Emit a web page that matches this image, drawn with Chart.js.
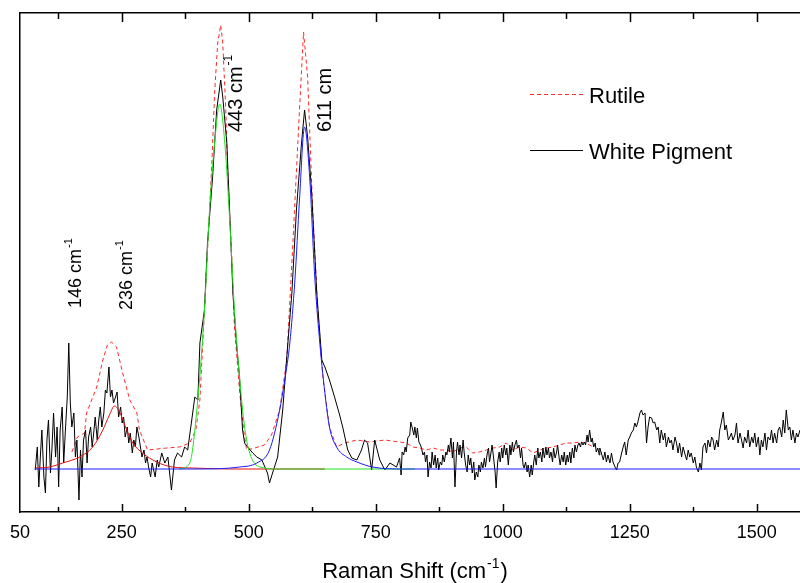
<!DOCTYPE html>
<html>
<head>
<meta charset="utf-8">
<title>Raman spectrum</title>
<script src="https://cdn.jsdelivr.net/npm/chart.js@4.4.1/dist/chart.umd.min.js"></script>
<style>
  html, body { margin: 0; padding: 0; background: #fff; overflow: hidden; }
  canvas { display: block; }
</style>
</head>
<body>
<canvas id="ramanChart" width="800" height="583"></canvas>
<script>
// White pigment spectrum (raw, noisy)
const pigmentShift = [
  // 80 - 323
  80, 84, 87, 90, 93, 97, 100, 103, 106, 110,
  113, 116, 120, 123, 126, 129, 133, 136, 139, 143,
  146, 149, 152, 156, 159, 162, 166, 169, 172, 175,
  179, 182, 185, 189, 192, 195, 198, 202, 205, 208,
  211, 215, 218, 221, 225, 228, 231, 234, 238, 241,
  244, 248, 251, 254, 257, 261, 264, 267, 271, 274,
  277, 280, 284, 287, 290, 294, 297, 300, 303, 307,
  310, 313, 316, 320, 323,
  // 329 - 791
  329, 335, 341, 348, 354, 360, 368, 374, 380, 388,
  394, 400, 404, 413, 419, 429, 437, 445, 449, 457,
  463, 469, 476, 482, 488, 492, 498, 508, 516, 526,
  537, 541, 547, 557, 567, 575, 585, 594, 604, 610,
  616, 624, 634, 644, 650, 659, 669, 679, 685, 695,
  703, 713, 722, 728, 734, 742, 748, 758, 768, 778,
  791,
  // 797 - 1190
  797, 800, 802, 805, 808, 810, 813, 817, 819, 822,
  825, 827, 830, 832, 835, 838, 840, 843, 846, 848,
  851, 853, 856, 859, 861, 864, 867, 869, 872, 874,
  877, 880, 882, 885, 888, 890, 893, 895, 898, 901,
  903, 906, 909, 911, 914, 916, 919, 922, 924, 927,
  930, 932, 935, 937, 940, 943, 945, 948, 951, 953,
  956, 958, 961, 964, 966, 969, 972, 974, 977, 979,
  982, 985, 987, 990, 993, 995, 998, 1000, 1003, 1006,
  1008, 1011, 1014, 1016, 1019, 1021, 1024, 1027, 1029, 1032,
  1035, 1037, 1040, 1042, 1045, 1048, 1050, 1053, 1056, 1058,
  1061, 1063, 1066, 1069, 1071, 1074, 1077, 1079, 1082, 1085,
  1087, 1090, 1092, 1095, 1098, 1100, 1103, 1106, 1108, 1111,
  1113, 1116, 1119, 1121, 1124, 1127, 1129, 1132, 1134, 1137,
  1140, 1142, 1145, 1148, 1150, 1153, 1155, 1158, 1161, 1163,
  1166, 1168, 1171, 1174, 1176, 1179, 1182, 1184, 1187, 1190,
  // 1191 - 1585
  1191, 1194, 1198, 1201, 1204, 1207, 1211, 1214, 1217, 1221,
  1224, 1227, 1230, 1234, 1237, 1240, 1243, 1247, 1250, 1253,
  1257, 1260, 1263, 1266, 1270, 1273, 1276, 1280, 1283, 1286,
  1289, 1293, 1296, 1299, 1303, 1306, 1309, 1312, 1316, 1319,
  1322, 1326, 1329, 1332, 1335, 1339, 1342, 1345, 1348, 1352,
  1355, 1358, 1362, 1365, 1368, 1371, 1375, 1378, 1381, 1385,
  1388, 1391, 1394, 1398, 1401, 1404, 1408, 1411, 1414, 1417,
  1421, 1424, 1427, 1430, 1434, 1437, 1440, 1444, 1447, 1450,
  1453, 1457, 1460, 1463, 1467, 1470, 1473, 1476, 1480, 1483,
  1486, 1490, 1493, 1496, 1499, 1503, 1506, 1509, 1512, 1516,
  1519, 1522, 1526, 1529, 1532, 1535, 1539, 1542, 1545, 1549,
  1552, 1555, 1558, 1562, 1565, 1568, 1571, 1575, 1578, 1581,
  1585
];
const pigmentIntensity = [
  -1, 22, -18, 12, 39, -8, -24, 29, 49, -4,
  22, 56, 12, 42, -18, 39, 62, 6, 36, 72,
  126, 66, 42, 56, 12, 29, -31, 19, -8, 29,
  39, 6, 32, 42, 22, 36, 52, 29, 49, 62,
  42, 56, 79, 76, 102, 72, 79, 66, 72, 77,
  52, 62, 46, 52, 32, 42, 26, 36, 16, 29,
  22, 42, 32, 22, 12, 19, 6, 12, 2, -8,
  6, -1, -8, 9, 2,

  16, 6, 12, -21, 9, 16, 12, 22, 19, 49,
  72, 69, 126, 159, 226, 292, 359, 389, 372, 326,
  252, 176, 126, 92, 39, 26, 22, 16, 12, 9,
  -4, -14, -4, 12, 59, 112, 176, 259, 326, 359,
  332, 276, 176, 109, 102, 89, 72, 54, 42, 19,
  11, 9, 19, 29, 26, -1, 29, 9, -1, 6,
  2,

  11, -6, 17, 14, 22, 17, 31, 34, 47, 41,
  34, 42, 31, 41, 27, 24, 21, 14, 17, 7,
  14, -8, 7, 1, 17, 4, 14, 1, 11, -1,
  7, 4, 14, 7, 17, 14, 24, 17, 31, 11,
  27, -18, 17, 27, 14, 24, 11, 29, 17, 4,
  -3, 14, 4, 11, -4, 7, -11, -3, -8, 4,
  -3, 7, 1, 11, 2, 14, 21, 7, 17, 24,
  11, -3, -19, 7, 17, 7, 21, 11, 24, 14,
  21, 4, 24, 14, 27, 17, 24, 29, 21, 24,
  11, 21, 4, 1, 7, -3, 4, -8, 4, -6,
  7, 14, 4, 21, 11, 17, 7, 21, 11, 22,
  14, 21, 11, 17, 7, 21, 11, 17, 24, 11,
  4, 14, 7, 17, 4, 14, 7, 17, 6, 21,
  11, 24, 17, 24, 26, 22, 27, 24, 27, 24,
  34, 27, 39, 27, 31, 22, 26, 17, 21, 14,

  21, 16, 9, 17, 7, 14, 6, 16, 7, 2,
  -1, 6, 7, 16, 22, 27, 14, 29, 32, 36,
  39, 46, 42, 47, 56, 59, 54, 56, 26, 42,
  52, 51, 46, 47, 39, 42, 26, 39, 29, 36,
  22, 32, 26, 29, 19, 32, 26, 16, 26, 12,
  22, 16, 9, 19, 12, 16, 6, 12, 2, -3,
  6, -1, 22, 26, 16, 29, 22, 32, 29, 19,
  29, 22, 39, 46, 57, 39, 44, 29, 32, 36,
  29, 34, 46, 26, 36, 29, 21, 32, 26, 39,
  22, 32, 26, 36, 22, 32, 14, 29, 22, 36,
  19, 32, 29, 39, 26, 36, 26, 39, 42, 32,
  49, 36, 59, 39, 42, 29, 39, 26, 36, 32,
  39
];

// Rutile reference spectrum
const rutileShift = [
  152, 163, 177, 181, 201, 213, 222, 230, 240, 252,
  266, 280, 285, 301, 339, 364, 384, 396, 404, 411,
  419, 427, 433, 439, 445, 449, 455, 459, 467, 472,
  482, 490, 496, 512, 531, 545, 561, 575, 587, 600,
  608, 616, 626, 636, 646, 659, 673, 689, 713, 738,
  768, 797, 810, 823, 836, 850, 863, 876, 889, 902,
  915, 928, 941, 954, 968, 981, 994, 1007, 1020, 1033,
  1046, 1060, 1073, 1086, 1099, 1112, 1125, 1138, 1151, 1164,
  1178
];
const rutileIntensity = [
  17, 32, 36, 56, 82, 109, 124, 127, 122, 96,
  69, 56, 39, 19, 21, 22, 26, 39, 69, 139,
  219, 299, 376, 426, 444, 426, 359, 292, 209, 142,
  79, 39, 19, 21, 24, 34, 59, 109, 226, 359,
  437, 392, 259, 159, 92, 42, 22, 26, 29, 27,
  29, 27, 26, 22, 21, 19, 21, 19, 19, 17,
  21, 22, 16, 17, 19, 21, 22, 26, 19, 22,
  21, 16, 19, 21, 22, 24, 26, 26, 27, 26,
  22
];

// Peak fits
const fit236Shift = [79, 108, 134, 167, 193, 213, 226, 236, 246, 260, 272, 291, 319, 350, 390, 463, 650];
const fit236Intensity = [1, 2, 6, 12, 22, 39, 54, 63, 57, 39, 26, 16, 7, 2, 1, 0, 0];

const fit443Shift = [364, 384, 398, 413, 423, 433, 443, 453, 463, 472, 482, 492, 502, 522, 561, 827];
const fit443Intensity = [0, 6, 59, 159, 259, 326, 365, 326, 246, 159, 92, 42, 16, 2, 0, 0];

const fit611Shift = [79, 404, 482, 516, 541, 561, 571, 581, 591, 600, 610, 620, 630, 640, 650, 659, 673, 693, 713, 744, 797, 1585];
const fit611Intensity = [0, 0, 2, 6, 19, 59, 89, 126, 189, 269, 342, 292, 192, 126, 76, 42, 22, 12, 7, 2, 0, 0];

// axis ticks
const xTickValues = [125, 250, 375, 500, 625, 750, 875, 1000, 1125, 1250, 1375, 1500];
const xTickLabels = ['50', '250', '500', '750', '1000', '1250', '1500'];

// peak annotations
const peakNames = ['146 cm', '236 cm', '443 cm', '611 cm'];
const peakSups = ['-1', '-1', '-1', ''];

const FONT = "'Liberation Sans', Arial, sans-serif";

const toPoints = (xs, ys) => xs.map((x, i) => ({ x: x, y: ys[i] }));

// where the rotated labels sit (data units) and their size
const labelSpots = [
  { x: 171, y: 161, size: 18 },
  { x: 270, y: 159, size: 18 },
  { x: 486, y: 337, size: 20 },
  { x: 663, y: 337, size: 20 }
];

const decorPlugin = {
  id: 'decor',
  afterDraw(chart) {
    const ctx = chart.ctx;
    const xs = chart.scales.x;
    const ys = chart.scales.y;
    const area = chart.chartArea;

    // inward tick marks, top and bottom
    ctx.save();
    ctx.strokeStyle = '#000';
    ctx.lineWidth = 1.5;
    xTickValues.forEach(v => {
      const px = Math.round(xs.getPixelForValue(v)) + 0.5;
      const len = v % 250 === 0 ? 8 : 5;
      ctx.beginPath();
      ctx.moveTo(px, area.bottom);
      ctx.lineTo(px, area.bottom - len);
      ctx.moveTo(px, area.top);
      ctx.lineTo(px, area.top + len + 1);
      ctx.stroke();
    });
    ctx.restore();

    // rotated peak labels
    ctx.save();
    ctx.fillStyle = '#000';
    peakNames.forEach((name, i) => {
      const s = labelSpots[i];
      ctx.save();
      ctx.translate(xs.getPixelForValue(s.x), ys.getPixelForValue(s.y));
      ctx.rotate(-Math.PI / 2);
      ctx.font = s.size + 'px ' + FONT;
      ctx.textBaseline = 'alphabetic';
      ctx.fillText(name, 0, 0);
      if (peakSups[i]) {
        const w = ctx.measureText(name).width;
        ctx.font = Math.round(s.size * 0.62) + 'px ' + FONT;
        ctx.fillText(peakSups[i], w + 1, -s.size * 0.5);
      }
      ctx.restore();
    });
    ctx.restore();

    // legend (only the two spectra)
    ctx.save();
    const legendItems = [4, 3];
    const legendY = [94, 150];
    legendItems.forEach((di, i) => {
      const ds = chart.data.datasets[di];
      ctx.strokeStyle = ds.borderColor;
      ctx.lineWidth = 1;
      ctx.setLineDash(ds.borderDash || []);
      ctx.beginPath();
      ctx.moveTo(530, legendY[i] + 0.5);
      ctx.lineTo(583, legendY[i] + 0.5);
      ctx.stroke();
      ctx.setLineDash([]);
      ctx.fillStyle = '#000';
      ctx.font = '22px ' + FONT;
      ctx.textBaseline = 'alphabetic';
      ctx.fillText(ds.label, 589, legendY[i] + 9);
    });
    ctx.restore();

    // axis title with superscript
    ctx.save();
    ctx.fillStyle = '#000';
    ctx.textBaseline = 'alphabetic';
    const t1 = 'Raman Shift (cm', t2 = '-1', t3 = ')';
    ctx.font = '22px ' + FONT;
    const w1 = ctx.measureText(t1).width, w3 = ctx.measureText(t3).width;
    ctx.font = '14px ' + FONT;
    const w2 = ctx.measureText(t2).width;
    let tx = (area.left + area.right) / 2 + 4 - (w1 + w2 + w3) / 2;
    const ty = 578;
    ctx.font = '22px ' + FONT;
    ctx.fillText(t1, tx, ty);
    ctx.font = '14px ' + FONT;
    ctx.fillText(t2, tx + w1 + 1, ty - 10);
    ctx.font = '22px ' + FONT;
    ctx.fillText(t3, tx + w1 + w2 + 2, ty);
    ctx.restore();
  }
};

const ctx = document.getElementById('ramanChart').getContext('2d');

new Chart(ctx, {
  type: 'line',
  data: {
    datasets: [
      { label: 'Fit 611', data: toPoints(fit611Shift, fit611Intensity), borderColor: '#1a1aff', borderWidth: 1, pointRadius: 0, cubicInterpolationMode: 'monotone' },
      { label: 'Fit 443', data: toPoints(fit443Shift, fit443Intensity), borderColor: '#22e022', borderWidth: 1, pointRadius: 0, cubicInterpolationMode: 'monotone' },
      { label: 'Fit 236', data: toPoints(fit236Shift, fit236Intensity), borderColor: '#e01010', borderWidth: 1, pointRadius: 0, cubicInterpolationMode: 'monotone' },
      { label: 'White Pigment', data: toPoints(pigmentShift, pigmentIntensity), borderColor: '#000000', borderWidth: 1, pointRadius: 0, tension: 0 },
      { label: 'Rutile', data: toPoints(rutileShift, rutileIntensity), borderColor: '#ff2a2a', borderWidth: 1, borderDash: [4, 3], pointRadius: 0, tension: 0 }
    ]
  },
  options: {
    responsive: false,
    animation: false,
    devicePixelRatio: 1,
    layout: { padding: { left: 20, right: 0, top: 0, bottom: 0 } },
    plugins: {
      legend: { display: false },
      tooltip: { enabled: false }
    },
    scales: {
      x: {
        type: 'linear',
        position: 'bottom',
        min: 50,
        max: 1585,
        afterBuildTicks: s => { s.ticks = [50, ...xTickValues].map(v => ({ value: v })); },
        afterFit: s => { s.height = 71; },
        ticks: {
          autoSkip: false,
          maxRotation: 0,
          padding: 10,
          color: '#000',
          font: { family: FONT, size: 18 },
          callback: v => xTickLabels.includes(String(v)) ? String(v) : ''
        },
        grid: { display: false, drawTicks: false },
        border: { display: true, color: '#000', width: 1.5 }
      },
      x2: {
        type: 'linear',
        position: 'top',
        min: 50,
        max: 1585,
        afterFit: s => { s.height = 13; },
        ticks: { display: false },
        grid: { display: false, drawTicks: false },
        border: { display: true, color: '#000', width: 1.5 }
      },
      y: {
        type: 'linear',
        min: -43,
        max: 456,
        afterFit: s => { s.width = 0; },
        ticks: { display: false },
        grid: { display: false, drawTicks: false },
        border: { display: true, color: '#000', width: 1.5 }
      }
    }
  },
  plugins: [decorPlugin]
});
</script>
</body>
</html>
